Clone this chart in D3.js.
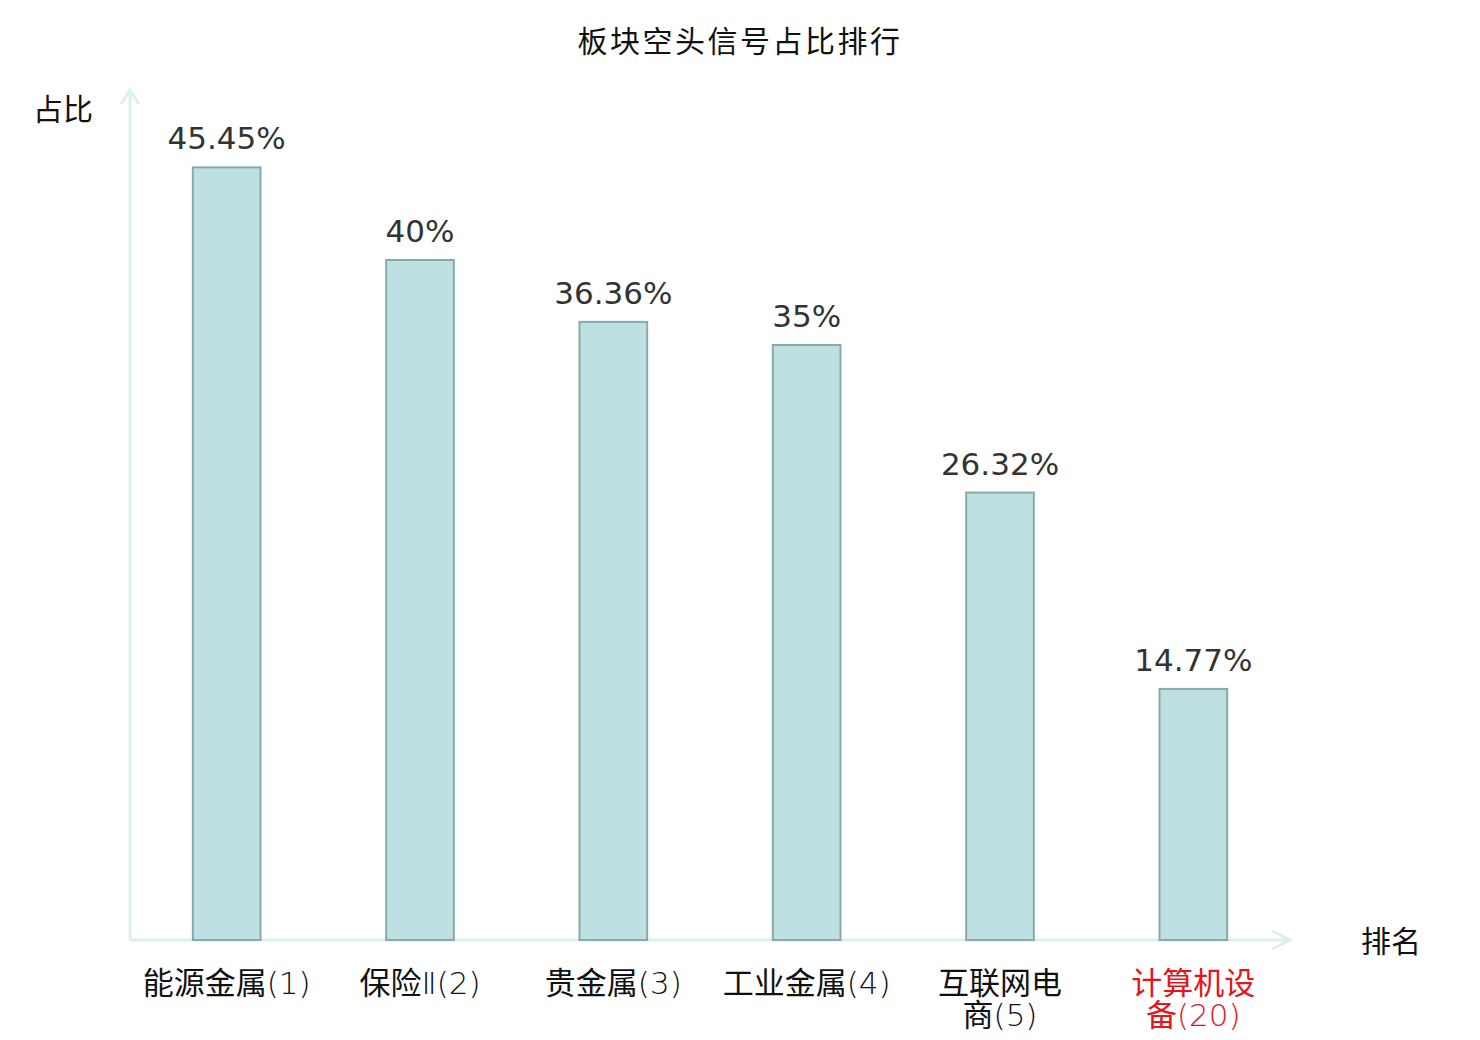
<!DOCTYPE html>
<html lang="zh">
<head>
<meta charset="UTF-8">
<title>板块空头信号占比排行</title>
<script src="https://d3js.org/d3.v7.min.js"></script>
<style>
  body { margin: 0; background: #fff; }
</style>
</head>
<body>
<div id="chart"></div>
<script>
// data
const categories = ["能源金属(1)", "保险Ⅱ(2)", "贵金属(3)", "工业金属(4)", "互联网电商(5)", "计算机设备(20)"];
const values = [45.45, 40, 36.36, 35, 26.32, 14.77];
const valueLabels = ["45.45%", "40%", "36.36%", "35%", "26.32%", "14.77%"];
const highlight = ["计算机设备(20)"];

const W = 1480, H = 1040;
const cjk = "'Noto Sans CJK SC', 'Noto Sans', sans-serif";
const thin = "'DejaVu Sans', sans-serif";

const svg = d3.select("#chart").append("svg")
  .attr("width", W)
  .attr("height", H);

const x = d3.scaleBand()
  .domain(categories)
  .range([130, 1290])
  .paddingInner(0.65)
  .paddingOuter(0.325);

const y = d3.scaleLinear()
  .domain([0, 50])
  .range([940, 90]);

// title
svg.append("text")
  .attr("x", 740)
  .attr("y", 52)
  .attr("text-anchor", "middle")
  .style("font-family", cjk)
  .style("font-size", "30px")
  .style("letter-spacing", "2.5px")
  .attr("fill", "#111")
  .text("板块空头信号占比排行");

// axes (light arrows)
const axisColor = "#dcf1ee";
svg.append("line")
  .attr("x1", 130).attr("y1", 940)
  .attr("x2", 130).attr("y2", y(50))
  .attr("stroke", axisColor).attr("stroke-width", 3);
svg.append("path")
  .attr("d", `M121,${y(50) + 14} L130,${y(50)} L139,${y(50) + 14}`)
  .attr("fill", "none").attr("stroke", axisColor).attr("stroke-width", 3);

svg.append("line")
  .attr("x1", 130).attr("y1", 940)
  .attr("x2", 1290).attr("y2", 940)
  .attr("stroke", axisColor).attr("stroke-width", 3);
svg.append("path")
  .attr("d", "M1272,931 L1290,940 L1272,949")
  .attr("fill", "none").attr("stroke", axisColor).attr("stroke-width", 3);

// axis names
svg.append("text")
  .attr("x", 63).attr("y", 120)
  .attr("text-anchor", "middle")
  .style("font-family", cjk).style("font-size", "30px")
  .attr("fill", "#111")
  .text("占比");
svg.append("text")
  .attr("x", 1391).attr("y", 952)
  .attr("text-anchor", "middle")
  .style("font-family", cjk).style("font-size", "30px")
  .attr("fill", "#111")
  .text("排名");

// bars
svg.selectAll("rect.bar")
  .data(values)
  .enter().append("rect")
  .attr("class", "bar")
  .attr("x", (d, i) => x(categories[i]))
  .attr("y", d => y(d))
  .attr("width", x.bandwidth())
  .attr("height", d => y(0) - y(d))
  .attr("fill", "#bde0e3")
  .attr("stroke", "#8aa9a9")
  .attr("stroke-width", 2);

// value labels
svg.selectAll("text.val")
  .data(values)
  .enter().append("text")
  .attr("class", "val")
  .attr("x", (d, i) => x(categories[i]) + x.bandwidth() / 2)
  .attr("y", d => y(d) - 18)
  .attr("text-anchor", "middle")
  .style("font-family", "'DejaVu Sans', sans-serif")
  .style("font-size", "31px")
  .attr("fill", "#333")
  .text((d, i) => valueLabels[i]);

// category labels: wide ones break after 4 characters
const isCJK = ch => /[\u3400-\u9fff]/.test(ch);

function addRuns(textSel, str, cx, dy) {
  // split a line into runs: CJK glyphs in the CJK font, the rest thin
  const runs = [];
  for (const ch of str) {
    const c = isCJK(ch);
    if (runs.length && runs[runs.length - 1].c === c) runs[runs.length - 1].s += ch;
    else runs.push({ c, s: ch });
  }
  runs.forEach((r, k) => {
    const ts = textSel.append("tspan").text(r.s);
    if (k === 0) ts.attr("x", cx).attr("dy", dy);
    if (!r.c) ts.style("font-family", thin).style("font-weight", 200);
  });
}

svg.selectAll("text.cat")
  .data(categories)
  .enter().append("text")
  .attr("class", "cat")
  .attr("y", 994)
  .attr("text-anchor", "middle")
  .style("font-family", cjk)
  .style("font-size", "31px")
  .attr("fill", d => highlight.includes(d) ? "#e8141b" : "#111")
  .each(function(d) {
    const t = d3.select(this);
    const cx = x(d) + x.bandwidth() / 2;
    const chars = Array.from(d);
    const lines = chars.length > 7 ? [chars.slice(0, 4).join(""), chars.slice(4).join("")] : [d];
    lines.forEach((l, i) => addRuns(t, l, cx, i === 0 ? 0 : 32));
  });
</script>
</body>
</html>
